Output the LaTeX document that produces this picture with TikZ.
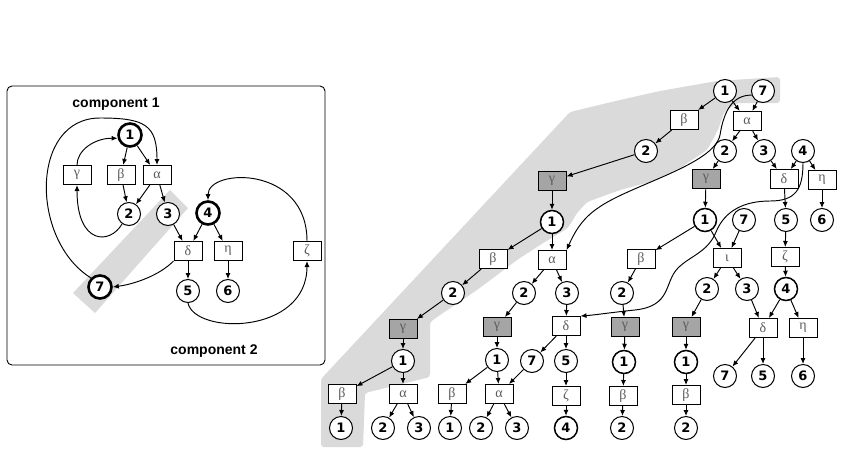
\documentclass[tikz,border=0pt]{standalone}
\usepackage{fontspec}
\setmainfont{Liberation Serif}
\setsansfont{Liberation Sans}
\newfontfamily\numfont{DejaVu Sans}
\usetikzlibrary{arrows.meta}
\definecolor{band}{RGB}{218,218,218}
\definecolor{darkbox}{RGB}{165,165,165}
\definecolor{greek}{RGB}{90,90,90}
\tikzset{
 vnode/.style={circle,draw,fill=white,minimum size=23pt,inner sep=0pt,line width=1pt,font=\numfont\bfseries\fontsize{13}{13}\selectfont},
 vbold/.style={vnode,line width=1.5pt},
 vthick/.style={vnode,line width=2.6pt},
 fbox/.style={rectangle,draw,fill=white,minimum width=28pt,minimum height=19pt,inner sep=0pt,line width=1pt,font=\fontsize{14}{14}\selectfont,text=greek},
 fdark/.style={fbox,fill=darkbox},
 edge/.style={-{Latex[length=6pt,width=5pt]},line width=0.95pt},
 lbl/.style={font=\sffamily\bfseries\fontsize{14}{14}\selectfont},
}
\begin{document}
\begin{tikzpicture}[x=1pt,y=-1pt]
\useasboundingbox[fill=white] (0,0) rectangle (863,448);
% ---------------- left panel ----------------
\draw[rounded corners=5pt,line width=0.9pt] (7,86) rectangle (325,365);
\fill[band] (170,190) -- (188,208) -- (95,313) -- (73,293) -- cycle;
\node[lbl] (c1) at (116,104) {component 1};
\node[lbl] (c2) at (214,351) {component 2};
\node[vthick] (L1) at (130,135) {1};
\node[fbox] (Lg) at (77,175) {γ};
\node[fbox] (Lb) at (121,175) {β};
\node[fbox] (La) at (157,175) {α};
\node[vnode] (L2) at (129,214) {2};
\node[vnode] (L3) at (168,214) {3};
\node[vthick] (L4) at (208,213) {4};
\node[fbox] (Ld) at (188,251) {δ};
\node[fbox] (Le) at (228,251) {η};
\node[fbox] (Lz) at (307,251) {ζ};
\node[vthick] (L7) at (100,287) {7};
\node[vnode] (L5) at (188,291) {5};
\node[vnode] (L6) at (228,291) {6};
\draw[edge] (L1) -- (Lb);
\draw[edge] (L1) -- (La);
\draw[edge] (Lg.north) .. controls (77,150) and (95,138) .. (L1.195);
\draw[edge] (Lb) -- (L2);
\draw[edge] (La) -- (L2);
\draw[edge] (La) -- (L3);
\draw[edge] (L2.235) .. controls (110,245) and (77,245) .. (Lg.south);
\draw[edge] (L3) -- (Ld);
\draw[edge] (L4) -- (Ld);
\draw[edge] (L4) -- (Le);
\draw[edge] (Ld) -- (L5);
\draw[edge] (Le) -- (L6);
\draw[edge] (Ld.south west) .. controls (160,275) and (135,284) .. (L7.east);
\draw[edge] (L7.north west) .. controls (30,240) and (30,118) .. (100,118) .. controls (145,118) and (157,125) .. (La.north);
\draw[edge] (L5.south) .. controls (195,335) and (307,335) .. (Lz.south);
\draw[edge] (Lz.north) .. controls (307,165) and (208,168) .. (L4.north);
% ---------------- right tree ----------------
\fill[band,rounded corners=3pt] (321,447) -- (321,379) -- (570,112) -- (620,100) -- (660,91) -- (717,81) -- (780,77) -- (780,103) -- (737,103) -- (724,112) -- (718,130) -- (707,150) -- (680,168) -- (650,182) -- (620,190) -- (587,202) -- (577,213) -- (568,228) -- (540,245) -- (517,260) -- (477,290) -- (443,313) -- (430,322) -- (430,377) -- (365,393) -- (363,447) -- cycle;
% row 0
\node[vnode] (a1) at (725,91) {1};
\node[vnode] (a7) at (763,91) {7};
% row 1
\node[fbox] (b1) at (684,120) {β};
\node[fbox] (b2) at (747,121) {α};
% row 2
\node[vnode] (c1n) at (646,151) {2};
\node[vnode] (c2n) at (725,151) {2};
\node[vnode] (c3n) at (764,151) {3};
\node[vnode] (c4n) at (803,151) {4};
% row 3
\node[fdark] (d1) at (552,181) {γ};
\node[fdark] (d2) at (706,179) {γ};
\node[fbox] (d3) at (784,179) {δ};
\node[fbox] (d4) at (822,180) {η};
% row 4
\node[vbold] (e1) at (552,222) {1};
\node[vbold] (e2) at (705,220) {1};
\node[vnode] (e3) at (744,220) {7};
\node[vnode] (e4) at (786,220) {5};
\node[vnode] (e5) at (822,220) {6};
% row 5
\node[fbox] (f1) at (493,259) {β};
\node[fbox] (f2) at (552,260) {α};
\node[fbox] (f3) at (641,259) {β};
\node[fbox] (f4) at (727,258) {ι};
\node[fbox] (f5) at (785,257) {ζ};
% row 6
\node[vnode] (g1) at (453,293) {2};
\node[vnode] (g2) at (524,293) {2};
\node[vnode] (g3) at (567,293) {3};
\node[vnode] (g4) at (622,293) {2};
\node[vnode] (g5) at (707,289) {2};
\node[vnode] (g6) at (747,289) {3};
\node[vbold] (g7) at (786,289) {4};
% row 7
\node[fdark] (h1) at (403,329) {γ};
\node[fdark] (h2) at (497,327) {γ};
\node[fbox] (h3) at (566,326) {δ};
\node[fdark] (h4) at (625,327) {γ};
\node[fdark] (h5) at (686,327) {γ};
\node[fbox] (h6) at (763,328) {δ};
\node[fbox] (h7) at (803,328) {η};
% row 8
\node[vnode] (i1) at (403,361) {1};
\node[vnode] (i2) at (497,360) {1};
\node[vnode] (i3) at (532,361) {7};
\node[vnode] (i4) at (566,361) {5};
\node[vbold] (i5) at (624,362) {1};
\node[vbold] (i6) at (686,362) {1};
\node[vnode] (i7) at (725,376) {7};
\node[vnode] (i8) at (763,376) {5};
\node[vnode] (i9) at (803,376) {6};
% row 9
\node[fbox] (j1) at (342,394) {β};
\node[fbox] (j2) at (403,394) {α};
\node[fbox] (j3) at (452,394) {β};
\node[fbox] (j4) at (499,394) {α};
\node[fbox] (j5) at (566,396) {ζ};
\node[fbox] (j6) at (623,396) {β};
\node[fbox] (j7) at (686,395) {β};
% row 10
\node[vnode] (k1) at (341,428) {1};
\node[vnode] (k2) at (383,428) {2};
\node[vnode] (k3) at (419,428) {3};
\node[vnode] (k4) at (450,428) {1};
\node[vnode] (k5) at (481,428) {2};
\node[vnode] (k6) at (517,428) {3};
\node[vbold] (k7) at (566,428) {4};
\node[vnode] (k8) at (622,428) {2};
\node[vnode] (k9) at (686,428) {2};
% edges
\draw[edge] (a1) -- (b1);
\draw[edge] (a1) -- (b2);
\draw[edge] (a7) -- (b2);
\draw[edge] (b1) -- (c1n);
\draw[edge] (b2) -- (c2n);
\draw[edge] (b2) -- (c3n);
\draw[edge] (c1n) -- (d1);
\draw[edge] (c2n) -- (d2);
\draw[edge] (c3n) -- (d3);
\draw[edge] (c4n) -- (d3);
\draw[edge] (c4n) -- (d4);
\draw[edge] (d1) -- (e1);
\draw[edge] (d2) -- (e2);
\draw[edge] (d3) -- (e4);
\draw[edge] (d4) -- (e5);
\draw[edge] (e1) -- (f1);
\draw[edge] (e1) -- (f2);
\draw[edge] (e2) -- (f3);
\draw[edge] (e2) -- (f4);
\draw[edge] (e3) -- (f4);
\draw[edge] (e4) -- (f5);
\draw[edge] (f1) -- (g1);
\draw[edge] (f2) -- (g2);
\draw[edge] (f2) -- (g3);
\draw[edge] (f3) -- (g4);
\draw[edge] (f4) -- (g5);
\draw[edge] (f4) -- (g6);
\draw[edge] (f5) -- (g7);
\draw[edge] (g1) -- (h1);
\draw[edge] (g2) -- (h2);
\draw[edge] (g3) -- (h3);
\draw[edge] (g4) -- (h4);
\draw[edge] (g5) -- (h5);
\draw[edge] (g6) -- (h6);
\draw[edge] (g7) -- (h6);
\draw[edge] (g7) -- (h7);
\draw[edge] (h1) -- (i1);
\draw[edge] (h2) -- (i2);
\draw[edge] (h3) -- (i3);
\draw[edge] (h3) -- (i4);
\draw[edge] (h4) -- (i5);
\draw[edge] (h5) -- (i6);
\draw[edge] (h6) -- (i7);
\draw[edge] (h6) -- (i8);
\draw[edge] (h7) -- (i9);
\draw[edge] (i1) -- (j1);
\draw[edge] (i1) -- (j2);
\draw[edge] (i2) -- (j3);
\draw[edge] (i2) -- (j4);
\draw[edge] (i3) -- (j4);
\draw[edge] (i4) -- (j5);
\draw[edge] (i5) -- (j6);
\draw[edge] (i6) -- (j7);
\draw[edge] (j1) -- (k1);
\draw[edge] (j2) -- (k2);
\draw[edge] (j2) -- (k3);
\draw[edge] (j3) -- (k4);
\draw[edge] (j4) -- (k5);
\draw[edge] (j4) -- (k6);
\draw[edge] (j5) -- (k7);
\draw[edge] (j6) -- (k8);
\draw[edge] (j7) -- (k9);
% long curves
\draw[edge] (a7.200) .. controls (733,95) and (724,110) .. (720,135) .. controls (714,165) and (630,185) .. (598,208) .. controls (580,220) and (573,236) .. (f2.north east);
\draw[edge] (c4n.south) .. controls (803,190) and (795,201) .. (770,201) .. controls (745,201) and (725,210) .. (716,232) .. controls (708,252) and (690,256) .. (678,268) .. controls (664,282) and (672,306) .. (635,310) .. controls (615,312) and (595,315) .. (h3.north east);
\end{tikzpicture}
\end{document}
